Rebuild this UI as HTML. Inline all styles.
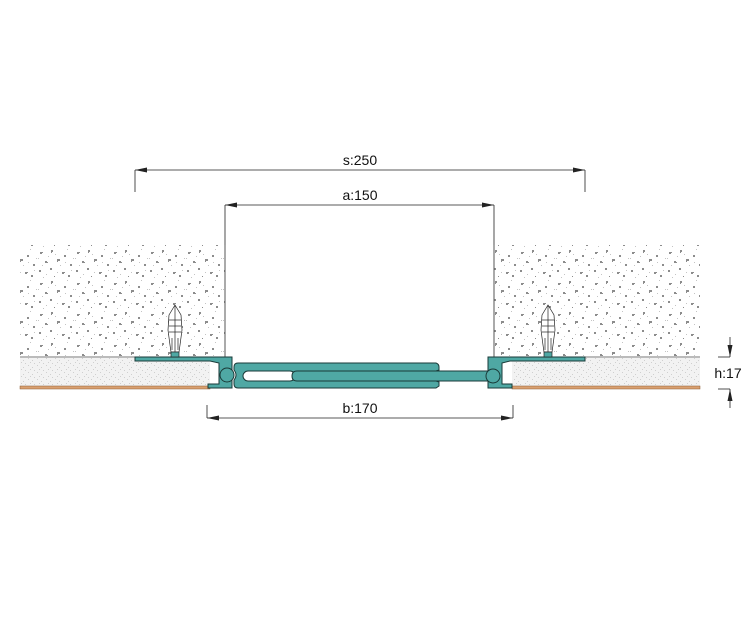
<!DOCTYPE html>
<html><head><meta charset="utf-8"><style>
html,body{margin:0;padding:0;background:#fff;}
svg{display:block;font-family:"Liberation Sans",sans-serif;}
</style></head><body>
<svg width="750" height="635" viewBox="0 0 750 635" xmlns="http://www.w3.org/2000/svg">
<defs>
<pattern id="conc" width="37" height="31" patternUnits="userSpaceOnUse">
<rect width="37" height="31" fill="#fff"/>
<g fill="#8c8c8c">
<path d="M3 4h3v1h-1v1h-2z"/><path d="M14 2h2v2h-1v1h-1z"/><path d="M27 7h2v2h-2z"/>
<path d="M8 13h2v1h1v1h-3z"/><path d="M20 11h3v2h-2v1h-1z"/><path d="M33 16h2v2h-2z"/>
<path d="M2 22h2v2h-2z"/><path d="M13 20h2v2h-2z"/><path d="M25 24h3v1h-1v1h-2z"/>
<rect x="31" y="27" width="2" height="2"/><rect x="17" y="28" width="1" height="1"/>
</g>
<g fill="#c4c4c4">
<rect x="6" y="29" width="1" height="1"/><rect x="23" y="17" width="1" height="1"/><rect x="11" y="8" width="1" height="1"/>
<rect x="30" y="1" width="1" height="1"/><rect x="36" y="10" width="1" height="1"/><rect x="18" y="6" width="1" height="1"/>
<rect x="28" y="14" width="1" height="1"/><rect x="5" y="17" width="1" height="1"/><rect x="20" y="24" width="1" height="1"/>
<rect x="9" y="26" width="1" height="1"/><rect x="34" y="22" width="1" height="1"/><rect x="1" y="10" width="1" height="1"/>
</g></pattern>
<pattern id="scr" width="9" height="7" patternUnits="userSpaceOnUse">
<rect width="9" height="7" fill="#f2f2f2"/>
<g fill="#cfcfcf"><rect x="1" y="1" width="1" height="1"/><rect x="5" y="3" width="1" height="1"/><rect x="3" y="5" width="1" height="1"/><rect x="7" y="6" width="1" height="1"/></g>
</pattern>
</defs>

<rect x="20" y="245" width="205" height="112" fill="url(#conc)"/>
<rect x="494" y="245" width="206" height="112" fill="url(#conc)"/>
<line x1="225" y1="245" x2="225" y2="357" stroke="#555" stroke-width="1"/>
<line x1="494" y1="245" x2="494" y2="357" stroke="#555" stroke-width="1"/>
<line x1="20" y1="357" x2="208" y2="357" stroke="#777" stroke-width="1"/>
<line x1="512" y1="357" x2="700" y2="357" stroke="#777" stroke-width="1"/>
<rect x="20" y="358" width="190" height="28" fill="url(#scr)"/>
<rect x="512" y="358" width="188" height="28" fill="url(#scr)"/>
<rect x="20" y="386" width="190" height="3" fill="#d9a070" stroke="#8a5a30" stroke-width="0.5"/>
<rect x="512" y="386" width="188" height="3" fill="#d9a070" stroke="#8a5a30" stroke-width="0.5"/>

<g fill="#4fa8a4" stroke="#1a3a38" stroke-width="1">
<!-- left profile -->
<path d="M135 357 L232 357 L232 388 L208 388 L208 384 L219 384 L219 363 L210 361 L135 361 Z"/>
<circle cx="227" cy="375" r="7"/>
<!-- central body -->
<path d="M234 367 Q234 363 238 363 L436 363 Q439 364 439 367 L439 370 L436 371 L436 381 L439 382 L439 386 L436 388 L238 388 Q234 388 234 384 L234 380 Q238 375 234 370 Z"/>
<rect x="243" y="371" width="52" height="10" rx="5" fill="#fff"/>
<path d="M297 371 L490 371 L490 381 L297 381 Q292 381 292 376 Q292 371 297 371 Z"/>
<!-- right profile -->
<path d="M585 357 L488 357 L488 388 L512 388 L512 384 L502 384 L502 363 L510 361 L585 361 Z"/>
<circle cx="493" cy="376" r="7"/>
</g>

<g fill="#fff" stroke="#222" stroke-width="0.7">
<path d="M169 315 L175 305 L181 315 L182 330 L180 345 L179 352 L171 352 L170 345 L168 330 Z"/>
<line x1="175" y1="305" x2="175" y2="352"/><line x1="169" y1="320" x2="181" y2="320"/><line x1="169" y1="326" x2="181" y2="326"/><line x1="169" y1="332" x2="181" y2="332"/><line x1="172" y1="338" x2="172" y2="350"/><line x1="178" y1="338" x2="178" y2="350"/>
<rect x="171" y="352" width="8" height="5" fill="#4fa8a4"/>
<path d="M542 315 L548 305 L554 315 L555 330 L553 345 L552 352 L544 352 L543 345 L541 330 Z"/>
<line x1="548" y1="305" x2="548" y2="352"/><line x1="542" y1="320" x2="554" y2="320"/><line x1="542" y1="326" x2="554" y2="326"/><line x1="542" y1="332" x2="554" y2="332"/><line x1="545" y1="338" x2="545" y2="350"/><line x1="551" y1="338" x2="551" y2="350"/>
<rect x="544" y="352" width="8" height="5" fill="#4fa8a4"/>
</g>

<g stroke="#222" stroke-width="0.8" fill="none">
<line x1="135" y1="170" x2="585" y2="170"/><line x1="135" y1="170" x2="135" y2="192"/><line x1="585" y1="170" x2="585" y2="192"/>
<line x1="225" y1="205" x2="494" y2="205"/><line x1="225" y1="205" x2="225" y2="245"/><line x1="494" y1="205" x2="494" y2="245"/>
<line x1="207" y1="418" x2="513" y2="418"/><line x1="207" y1="405" x2="207" y2="418"/><line x1="513" y1="405" x2="513" y2="418"/>
<line x1="718" y1="357" x2="730" y2="357"/><line x1="730" y1="337" x2="730" y2="357"/>
<line x1="718" y1="389" x2="730" y2="389"/><line x1="730" y1="389" x2="730" y2="408"/>
</g>
<g fill="#222">
<path d="M135 170 l12 -2.5 v5 z"/><path d="M585 170 l-12 -2.5 v5 z"/>
<path d="M225 205 l12 -2.5 v5 z"/><path d="M494 205 l-12 -2.5 v5 z"/>
<path d="M207 418 l12 -2.5 v5 z"/><path d="M513 418 l-12 -2.5 v5 z"/>
<path d="M730 357 l-2.5 -12 h5 z"/><path d="M730 389 l-2.5 12 h5 z"/>
</g>
<g font-size="14" fill="#111" text-anchor="middle">
<text x="360" y="165">s:250</text>
<text x="360" y="200">a:150</text>
<text x="360" y="413">b:170</text>
<text x="728" y="378">h:17</text>
</g>
</svg>
</body></html>
